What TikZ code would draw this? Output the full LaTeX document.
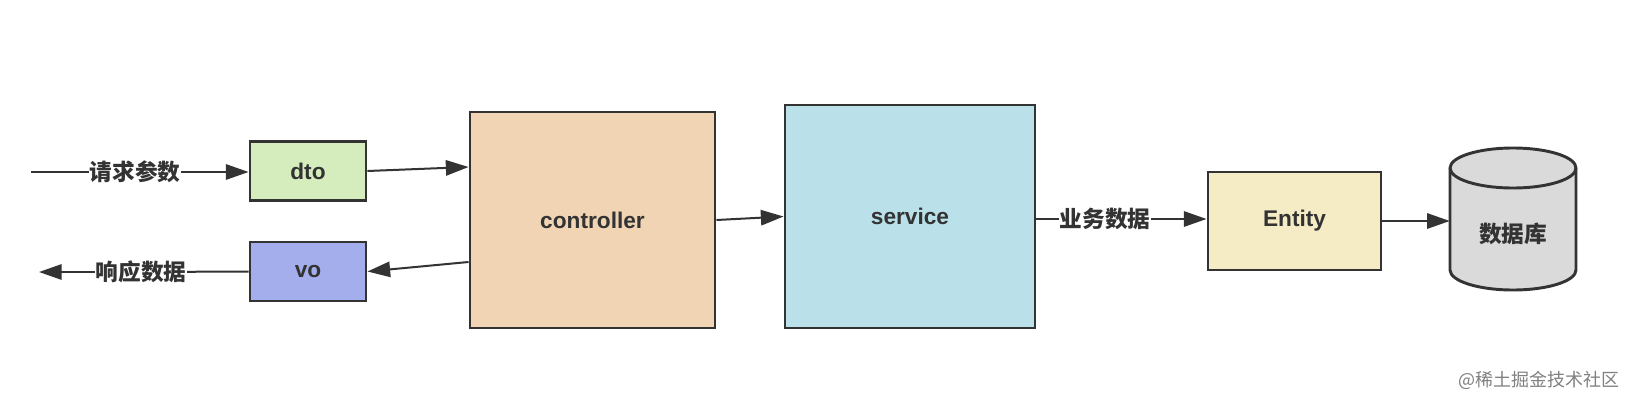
\documentclass[tikz,border=0pt]{standalone}
\usepackage{fontspec}
\setmainfont{Liberation Sans}
\newfontfamily\cjk{Noto Sans CJK SC}
\usetikzlibrary{arrows.meta,calc}
\definecolor{ink}{HTML}{333333}
\definecolor{dtofill}{HTML}{D5EDBD}
\definecolor{vofill}{HTML}{A4AEEC}
\definecolor{ctrlfill}{HTML}{F0D4B4}
\definecolor{svcfill}{HTML}{BAE0EA}
\definecolor{entfill}{HTML}{F5EBC4}
\definecolor{dbfill}{HTML}{DADADA}
\definecolor{wmark}{HTML}{808080}
\begin{document}
\begin{tikzpicture}[x=0.75pt,y=-0.75pt,
  box/.style={draw=ink, line width=2.2pt, inner sep=0pt, text=ink,
    font=\fontsize{17}{20}\selectfont\bfseries},
  conn/.style={draw=ink, line width=1.5pt},
  arr/.style={conn, -{Triangle[length=17pt,width=11.5pt]}},
  lbl/.style={fill=white, inner sep=0.3pt, text=ink,
    font=\cjk\bfseries\fontsize{17}{20}\selectfont},
  wm/.style={text=wmark, inner sep=0pt, font=\cjk\fontsize{13.5}{16}\selectfont}]
\fill[white] (0,0) rectangle (1626,396);
\useasboundingbox (0,0) rectangle (1626,396);

% boxes
\node[box, fill=dtofill, minimum width=87pt, minimum height=44.25pt] (dto) at (308,171) {dto};
\node[box, fill=vofill, minimum width=87pt, minimum height=44.25pt] (vo) at (308,271.5) {vo};
\node[box, fill=ctrlfill, minimum width=183.75pt, minimum height=162pt] (ctrl) at (592.5,220) {controller};
\node[box, fill=svcfill, minimum width=187.5pt, minimum height=167.25pt] (svc) at (910,216.5) {service};
\node[box, fill=entfill, minimum width=129.75pt, minimum height=73.5pt] (ent) at (1294.5,221) {Entity};

% database cylinder
\filldraw[fill=dbfill, draw=ink, line width=2.2pt]
  (1450,168) -- (1450,270) arc[start angle=180, end angle=360, x radius=47.25pt, y radius=15pt]
  -- (1576,168) arc[start angle=0, end angle=180, x radius=47.25pt, y radius=15pt] -- cycle;
\draw[draw=ink, line width=2.2pt]
  (1450,168) arc[start angle=180, end angle=360, x radius=47.25pt, y radius=15pt];
\node[minimum width=94.5pt, minimum height=106.5pt, inner sep=0pt] (db) at (1513,219) {};
\node[lbl, fill=none] (dbtext) at (1513,234) {数据库};

% labels on lines
\coordinate (in) at (31,172);
\coordinate (out) at (39,272);
\node[lbl] (req) at (135,172) {请求参数};
\node[lbl] (resp) at (141,272) {响应数据};
\node[lbl] (biz) at (1105,219) {业务数据};

% connectors
\draw[conn] (in) -- (req);
\draw[arr] (req) -- (req -| dto.west);
\draw[arr] (dto.east) -- ($(ctrl.west)+(0,-53)$);
\draw[arr] ($(ctrl.west)+(0,42)$) -- (vo.east);
\draw[conn] (vo.west) -- (resp);
\draw[arr] (resp) -- (out);
\draw[arr] (ctrl.east) -- (svc.west);
\draw[conn] (biz -| svc.east) -- (biz);
\draw[arr] (biz) -- (biz -| ent.west);
\draw[arr] (ent.east) -- (ent.east -| db.west);

% watermark
\node[wm, anchor=east] (wmk) at (1620,380) {@稀土掘金技术社区};
\end{tikzpicture}
\end{document}
